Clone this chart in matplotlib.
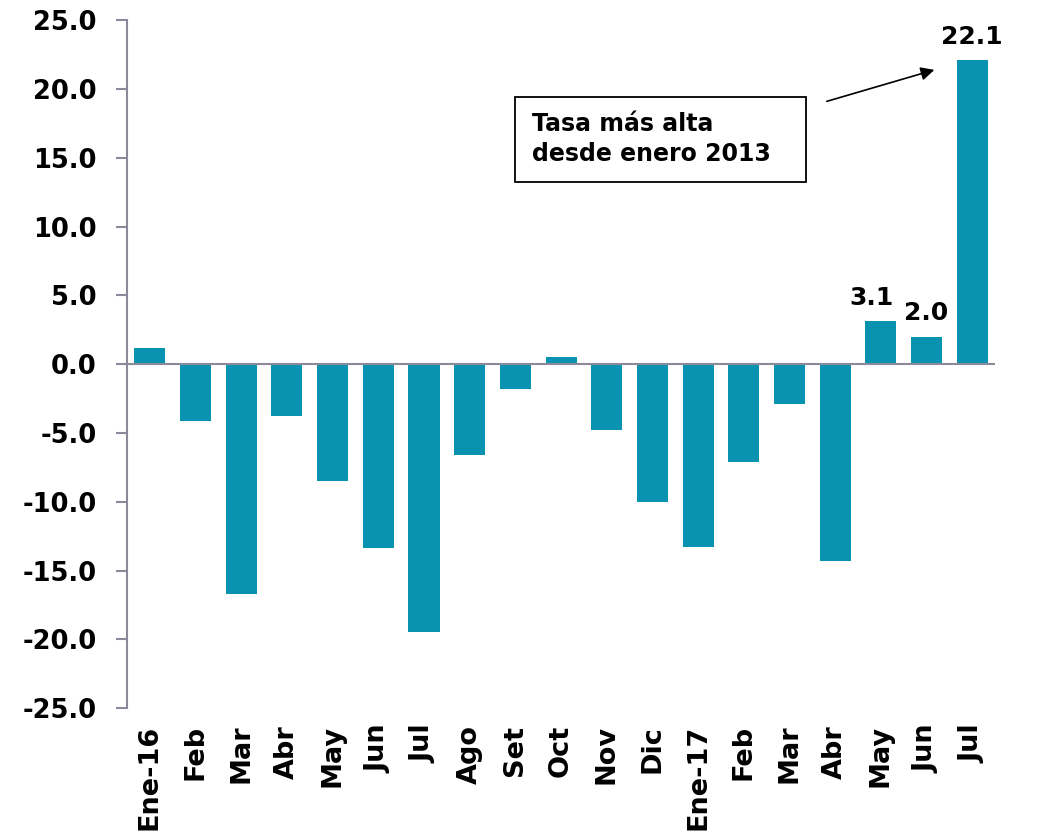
import matplotlib
matplotlib.use("Agg")
import matplotlib.pyplot as plt
from matplotlib.patches import Rectangle

meses = ["Ene-16", "Feb", "Mar", "Abr", "May", "Jun", "Jul", "Ago", "Set", "Oct",
         "Nov", "Dic", "Ene-17", "Feb", "Mar", "Abr", "May", "Jun", "Jul"]
tasa = [1.2, -4.1, -16.7, -3.8, -8.5, -13.4, -19.5, -6.6, -1.8, 0.5,
        -4.8, -10.0, -13.3, -7.1, -2.9, -14.3, 3.1, 2.0, 22.1]
etiquetados = [16, 17, 18]
yticks = [-25, -20, -15, -10, -5, 0, 5, 10, 15, 20, 25]

azul = "#0A93B0"
gris = "#8A8A9A"

plt.rcParams["font.family"] = ["DejaVu Sans"]
peso = "bold"

fig = plt.figure(figsize=(10.38, 8.38), dpi=100)
ax = fig.add_axes([0.1224, 0.155, 0.8362, 0.821])

x = list(range(len(meses)))
ax.bar(x, tasa, width=0.68, color=azul, zorder=2)
ax.axhline(0, color=gris, lw=1.5, zorder=3)

for i in etiquetados:
    dx = -0.2 if i == 16 else 0
    ax.annotate(f"{tasa[i]:.1f}", (i + dx, tasa[i]), xytext=(0, 8),
                textcoords="offset points", ha="center", va="bottom",
                fontsize=18, fontweight=peso)

ax.set_xlim(-0.5, len(meses) - 0.5)
ax.set_ylim(-25, 25)
ax.set_yticks(yticks)
ax.set_yticklabels([f"{v:.1f}" for v in yticks], fontsize=18.5, fontweight=peso)
ax.set_xticks(x)
ax.set_xticklabels(meses, rotation=90, fontsize=19.5, fontweight=peso)
ax.tick_params(axis="x", length=0, pad=12)
ax.tick_params(axis="y", length=8, width=1.5, color=gris, pad=14)

for s in ["top", "right", "bottom"]:
    ax.spines[s].set_visible(False)
ax.spines["left"].set_color(gris)
ax.spines["left"].set_linewidth(1.5)

# recuadro de nota
ax.add_patch(Rectangle((7.99, 13.23), 6.37, 6.17, fill=False, ec="black", lw=1.3, zorder=4))
ax.text(8.36, 16.35, "Tasa más alta\ndesde enero 2013", ha="left", va="center",
        fontsize=17, fontweight=peso, linespacing=1.3)
ax.annotate("", xy=(17.23, 21.44), xytext=(14.76, 19.04),
            arrowprops=dict(arrowstyle="-|>", color="black", lw=1.2, mutation_scale=20))

fig.savefig("out.png", dpi=100)
